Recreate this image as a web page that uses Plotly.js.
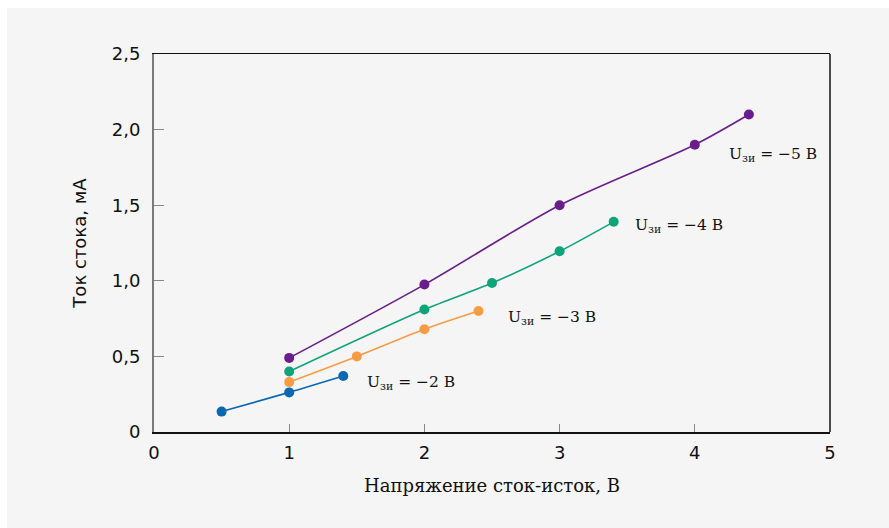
<!DOCTYPE html>
<html>
<head>
<meta charset="utf-8">
<script src="https://cdn.plot.ly/plotly-3.0.1.min.js"></script>
<style>
html,body{margin:0;padding:0;background:#ffffff;}
#chart{position:absolute;left:7px;top:8px;width:882px;height:520px;}
</style>
</head>
<body>
<div id="chart"></div>
<script>
const x5 = [1, 2, 3, 4, 4.4];
const y5 = [0.49, 0.975, 1.5, 1.9, 2.1];
const x4 = [1, 2, 2.5, 3, 3.4];
const y4 = [0.40, 0.81, 0.985, 1.195, 1.39];
const x3 = [1, 1.5, 2, 2.4];
const y3 = [0.33, 0.50, 0.68, 0.80];
const x2 = [0.5, 1, 1.4];
const y2 = [0.135, 0.262, 0.37];
const labels = ["U<sub>зи</sub> = −5 В", "U<sub>зи</sub> = −4 В", "U<sub>зи</sub> = −3 В", "U<sub>зи</sub> = −2 В"];
const xTicks = [0, 1, 2, 3, 4, 5];
const xTickText = ["0", "1", "2", "3", "4", "5"];
const yTicks = [0, 0.5, 1, 1.5, 2, 2.5];
const yTickText = ["0", "0,5", "1,0", "1,5", "2,0", "2,5"];

const colors = ["#6a1d8c", "#0fa37a", "#f79c45", "#0a67b2"];
const serif = "DejaVu Serif";
const sans = "DejaVu Sans";

function tr(x, y, c) {
  return {x: x, y: y, mode: "lines+markers", type: "scatter",
    line: {color: c, width: 1.6, shape: "spline", smoothing: 0.8},
    marker: {color: c, size: 10}, showlegend: false, hoverinfo: "skip"};
}
const data = [tr(x5, y5, colors[0]), tr(x4, y4, colors[1]), tr(x3, y3, colors[2]), tr(x2, y2, colors[3])];

const annPos = [[4.24, 1.83], [3.54, 1.36], [2.6, 0.755], [1.56, 0.325]];
const annotations = labels.map((t, i) => ({
  x: annPos[i][0], y: annPos[i][1], xref: "x", yref: "y", text: t, showarrow: false,
  xanchor: "left", yanchor: "middle", font: {family: serif, size: 15.5, color: "#111"}
}));

const layout = {
  width: 882, height: 520,
  paper_bgcolor: "#f5f5f5", plot_bgcolor: "#f5f5f5",
  margin: {l: 147, r: 59, t: 46, b: 96},
  xaxis: {range: [0, 5], tickvals: xTicks, ticktext: xTickText,
    showgrid: false, zeroline: false, showline: true, linecolor: "#111", linewidth: 1.5, mirror: true,
    ticks: "inside", ticklen: 8, tickcolor: "#888", tickwidth: 1.2, ticklabelstandoff: 4,
    tickfont: {family: sans, size: 18, color: "#111"},
    title: {text: "Напряжение сток-исток, В", font: {family: serif, size: 18, color: "#111"}, standoff: 17}},
  yaxis: {range: [0, 2.5], tickvals: yTicks, ticktext: yTickText,
    showgrid: false, zeroline: false, showline: true, linecolor: "#7a7a7a", linewidth: 2,
    ticks: "inside", ticklen: 10, tickcolor: "#888", tickwidth: 1.2, ticklabelstandoff: 8,
    tickfont: {family: sans, size: 18, color: "#111"},
    title: {text: "Ток стока, мА", font: {family: sans, size: 18, color: "#111"}, standoff: 20}},
  shapes: [{type: "line", xref: "paper", yref: "paper", x0: 1, x1: 1, y0: 0, y1: 1,
    line: {color: "#111", width: 1.5}}],
  annotations: annotations
};
Plotly.newPlot("chart", data, layout, {displayModeBar: false, staticPlot: true});
</script>
</body>
</html>
